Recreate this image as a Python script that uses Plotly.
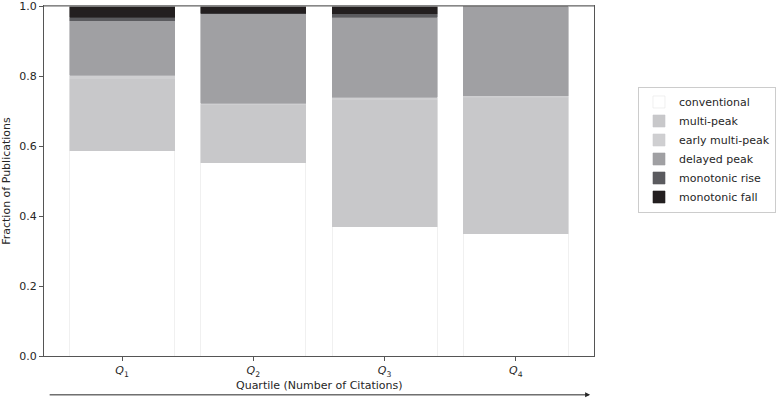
import plotly.graph_objects as go

quartiles = ["<i>Q</i><sub>1</sub>", "<i>Q</i><sub>2</sub>", "<i>Q</i><sub>3</sub>", "<i>Q</i><sub>4</sub>"]
conventional = [0.587, 0.552, 0.369, 0.349]
multi_peak = [0.206, 0.166, 0.364, 0.390]
early_multi_peak = [0.010, 0.005, 0.006, 0.005]
delayed_peak = [0.155, 0.255, 0.229, 0.256]
monotonic_rise = [0.011, 0.002, 0.011, 0.000]
monotonic_fall = [0.031, 0.020, 0.021, 0.000]

series = [
    ("conventional", conventional, "#ffffff", "#e6e6e6"),
    ("multi-peak", multi_peak, "#c8c8ca", "#c8c8ca"),
    ("early multi-peak", early_multi_peak, "#cfcfd1", "#cfcfd1"),
    ("delayed peak", delayed_peak, "#a0a0a3", "#a0a0a3"),
    ("monotonic rise", monotonic_rise, "#5b5b5f", "#5b5b5f"),
    ("monotonic fall", monotonic_fall, "#231f20", "#231f20"),
]

x = list(range(len(quartiles)))
fig = go.Figure()
for name, vals, col, edge in series:
    fig.add_trace(go.Bar(
        x=x, y=vals, name=name, width=0.8,
        marker=dict(color=col, line=dict(color=edge, width=0.6)),
    ))

font = "DejaVu Sans, sans-serif"
fig.update_layout(
    barmode="stack",
    width=781, height=400,
    margin=dict(l=44, r=187, t=6, b=44, autoexpand=False),
    paper_bgcolor="white", plot_bgcolor="white",
    font=dict(family=font, size=11, color="#262626"),
    showlegend=True,
    legend=dict(
        x=1.08, y=0.77, xanchor="left", yanchor="top",
        traceorder="normal",
        bordercolor="#cccccc", borderwidth=1,
        font=dict(size=11, color="#262626"),
        itemwidth=30, tracegroupgap=0,
    ),
    xaxis=dict(
        range=[-0.595, 3.595], tickmode="array", tickvals=x, ticktext=quartiles,
        showline=True, linecolor="#555555", linewidth=1, mirror=True,
        ticks="outside", ticklen=4, tickcolor="#555555",
        showgrid=False, zeroline=False, automargin=False,
    ),
    yaxis=dict(
        range=[0, 1.0005], tickmode="array", tickvals=[0, 0.2, 0.4, 0.6, 0.8, 1.0],
        ticktext=["0.0", "0.2", "0.4", "0.6", "0.8", "1.0"],
        showline=True, linecolor="#555555", linewidth=1, mirror=True,
        ticks="outside", ticklen=4, tickcolor="#555555",
        showgrid=False, zeroline=False, automargin=False,
        title=dict(text="Fraction of Publications", font=dict(size=11)),
    ),
)
fig.add_shape(type="line", xref="paper", yref="paper", x0=0, x1=1, y0=1, y1=1,
              line=dict(color="#999999", width=1.5))
# x axis title
fig.add_annotation(
    xref="paper", yref="paper", x=0.5, y=-0.084, yanchor="middle",
    text="Quartile (Number of Citations)", showarrow=False,
    font=dict(size=11, color="#262626"),
)
# arrow under the x axis title
fig.add_annotation(
    xref="paper", yref="paper", x=0.993, y=-0.111,
    ax=-544, ay=0, axref="pixel", ayref="pixel",
    text=" ", showarrow=True, arrowhead=2, arrowsize=1, arrowwidth=1,
    arrowcolor="#262626", standoff=0, startstandoff=0,
)
fig.write_html(
    "out.html",
    config={"displayModeBar": False},
    post_script="document.body.style.margin='0px';document.body.style.overflow='hidden';",
)
